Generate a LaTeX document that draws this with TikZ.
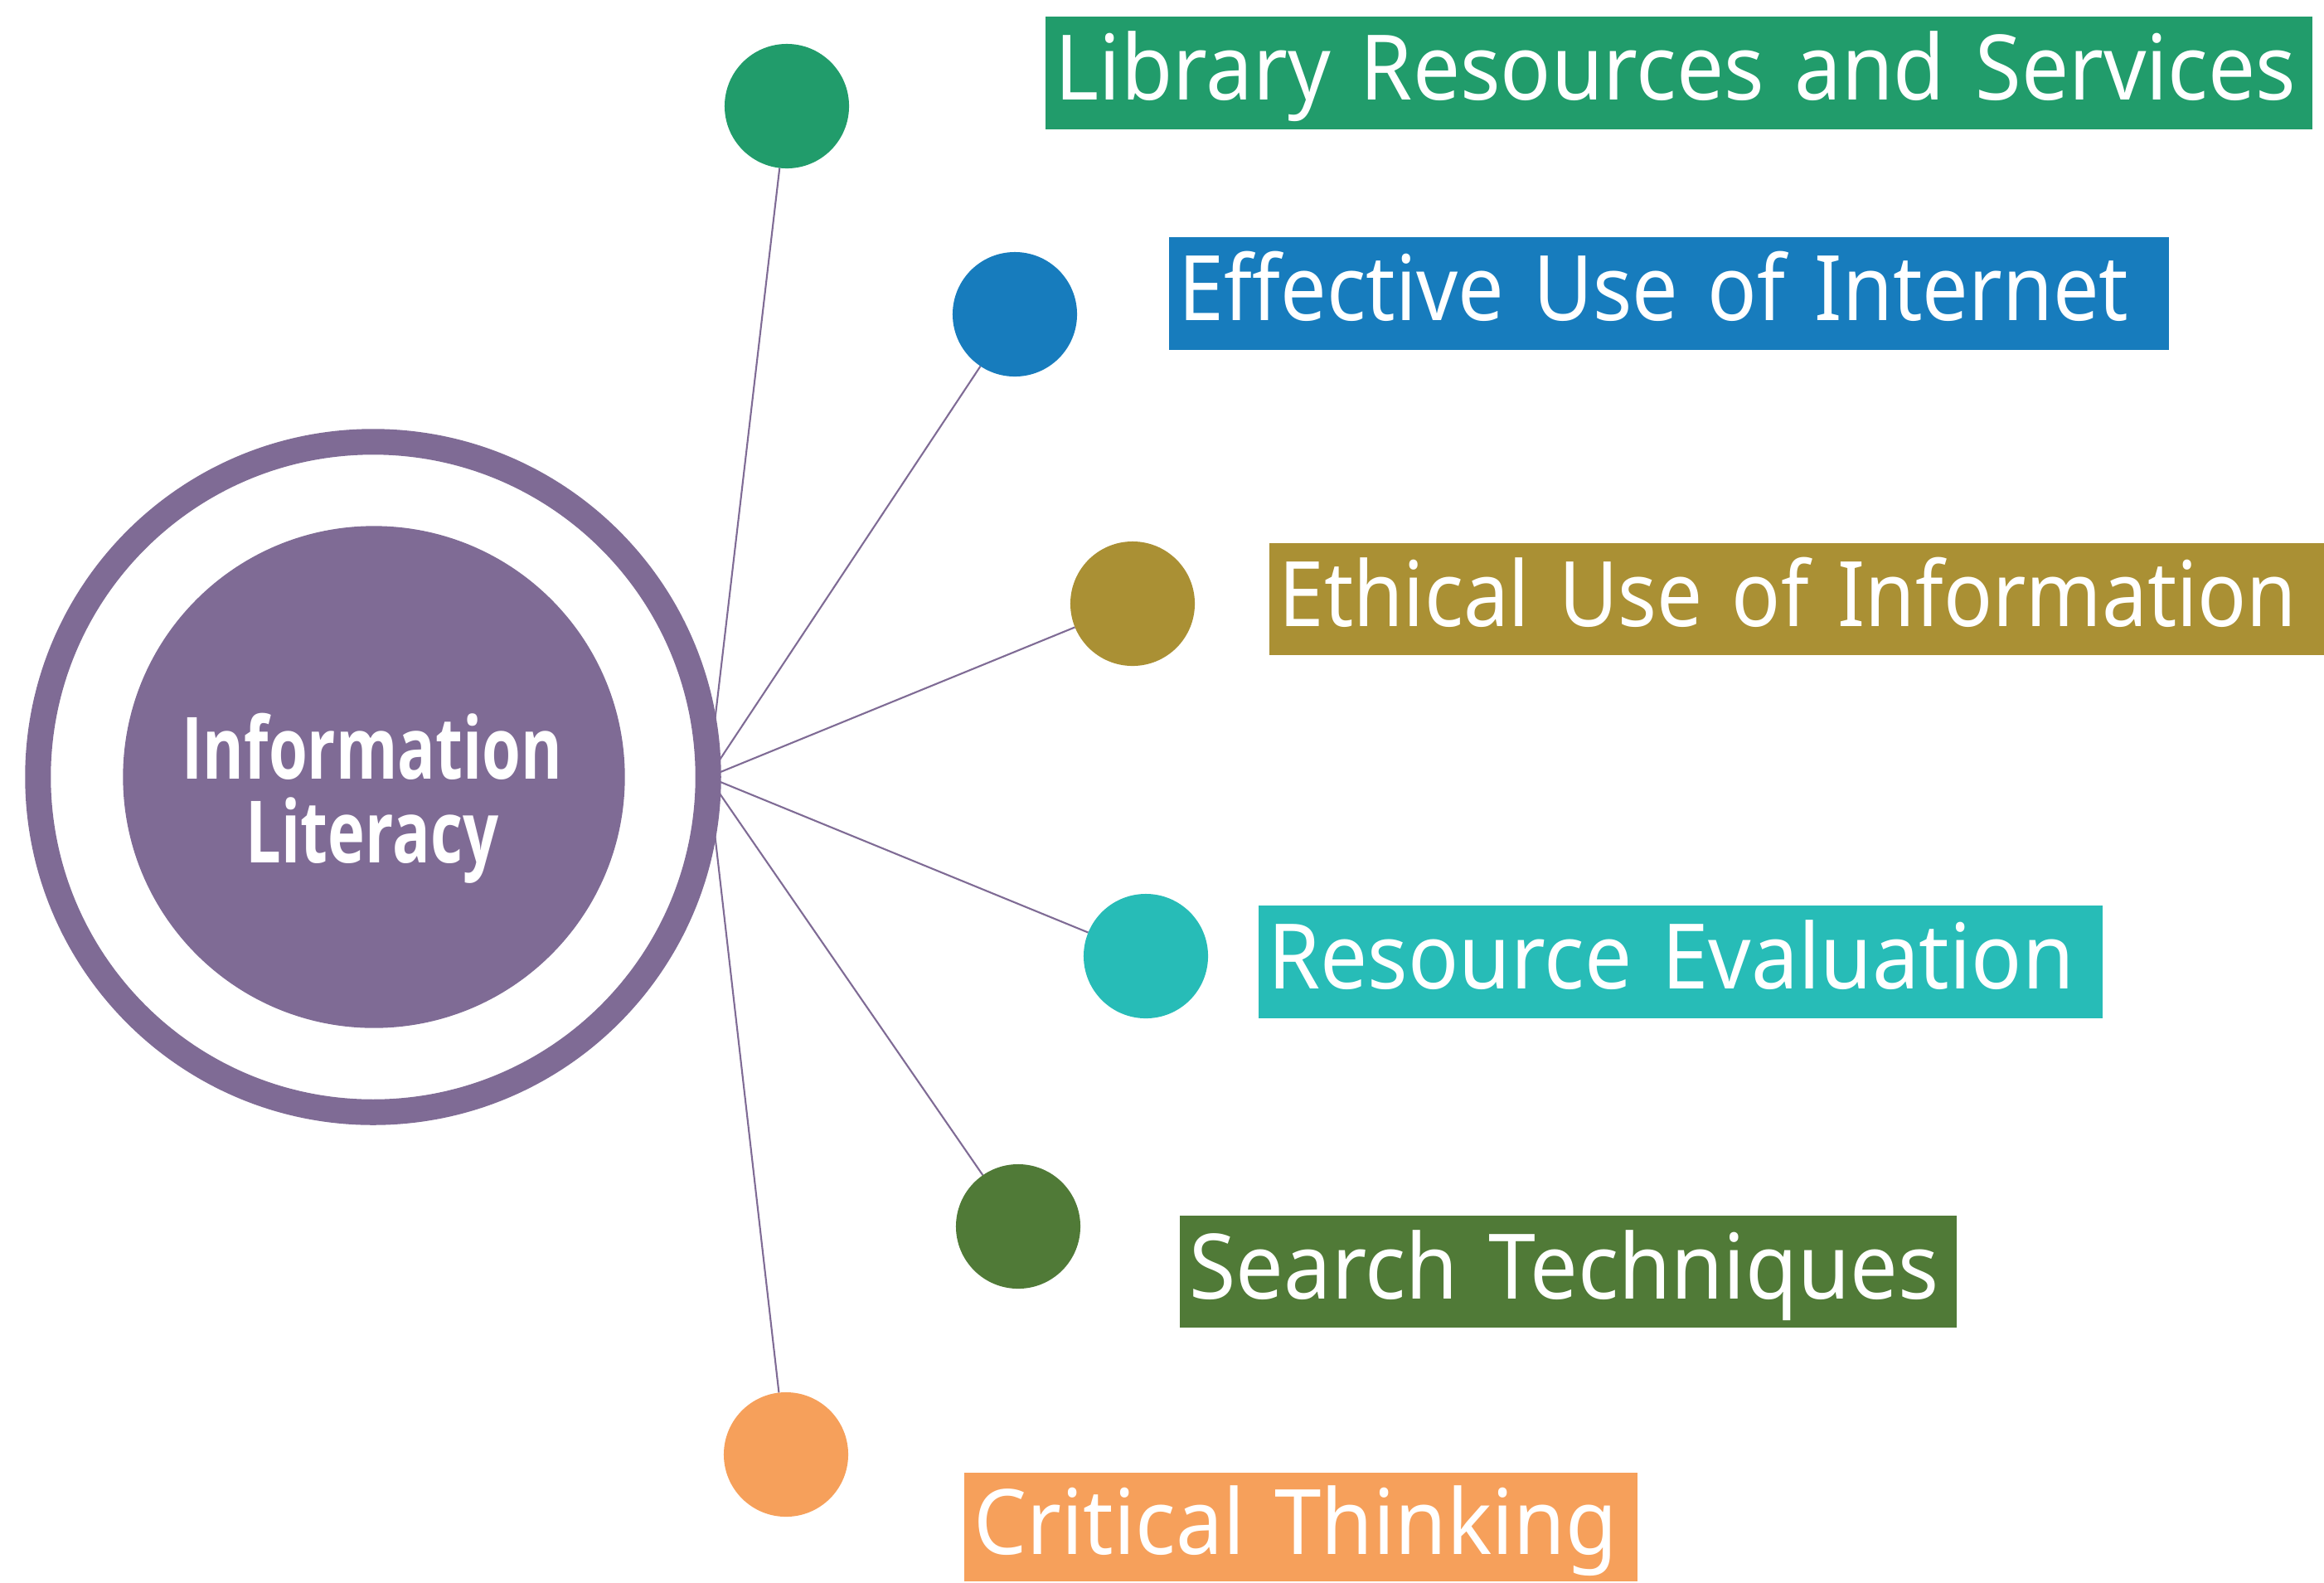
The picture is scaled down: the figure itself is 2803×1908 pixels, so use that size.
\documentclass[tikz,border=0pt]{standalone}
\usepackage{fontspec}
\usetikzlibrary{backgrounds}
\newfontfamily\labelfont{Noto Sans}[FakeStretch=0.93]
\newfontfamily\titlefont{Open Sans}[FakeStretch=0.73]
\definecolor{cpurple}{HTML}{7F6B95}
\definecolor{cgreen}{HTML}{219C6B}
\definecolor{cblue}{HTML}{177CBD}
\definecolor{colive}{HTML}{AA9034}
\definecolor{cteal}{HTML}{27BCB7}
\definecolor{cdgreen}{HTML}{507A37}
\definecolor{corange}{HTML}{F6A05B}
\tikzset{
  dot/.style={circle, fill=#1, minimum size=1.5cm, inner sep=0pt, outer sep=0pt},
  lbl/.style={fill=#1, text=white, anchor=north west, inner xsep=0.12cm, inner ysep=0pt,
    align=left, text height=0.78cm, text depth=0.12cm,
    font=\labelfont\fontsize{31}{36}\selectfont},
  spoke/.style={draw=cpurple, line width=0.6pt}
}
\begin{document}
\begin{tikzpicture}[x=0.01cm,y=-0.01cm]
\useasboundingbox (0,0) rectangle (2803,1908);
% central circles
\node[circle, draw=cpurple, line width=0.31cm, minimum size=8.08cm, inner sep=0pt, outer sep=0pt] (ring) at (450,937) {};
\node[circle, fill=cpurple, minimum size=6.05cm, inner sep=0pt] (core) at (451,937) {};
\node[text=white, align=center, inner sep=0pt, font=\titlefont\bfseries\fontsize{29.5}{28.7}\selectfont] (title) at (449,963) {Information\\Literacy};
% dots
\node[dot=cgreen] (d1) at (949,128) {};
\node[dot=cblue] (d2) at (1224,379) {};
\node[dot=colive] (d3) at (1366,728) {};
\node[dot=cteal] (d4) at (1382,1153) {};
\node[dot=cdgreen] (d5) at (1228,1479) {};
\node[dot=corange] (d6) at (948,1754) {};
% spokes
\begin{pgfonlayer}{background}
\foreach \d in {d1,d2,d3,d4,d5,d6}{\draw[spoke] (ring.east) -- (\d);}
\end{pgfonlayer}
% labels
\node[lbl=cgreen, minimum width=15.27cm, minimum height=1.36cm, text width=15.03cm] (l1) at (1260,19) {\mbox{Library Resources and Services}};
\node[lbl=cblue, minimum width=12.06cm, minimum height=1.36cm, text width=11.82cm] (l2) at (1409,285) {\scalebox{0.973}[1]{Effective Use of Internet}};
\node[lbl=colive, minimum width=12.73cm, minimum height=1.35cm, text width=12.49cm] (l3) at (1530,654) {\scalebox{0.965}[1]{Ethical Use of Information}};
\node[lbl=cteal, minimum width=10.18cm, minimum height=1.36cm, text width=9.94cm] (l4) at (1517,1091) {\mbox{Resource Evaluation}};
\node[lbl=cdgreen, minimum width=9.37cm, minimum height=1.35cm, text width=9.13cm] (l5) at (1422,1465) {\scalebox{1.01}[1]{Search Techniques}};
\node[lbl=corange, minimum width=8.12cm, minimum height=1.31cm, text width=7.88cm] (l6) at (1162,1775) {\mbox{Critical Thinking}};
\end{tikzpicture}
\end{document}
